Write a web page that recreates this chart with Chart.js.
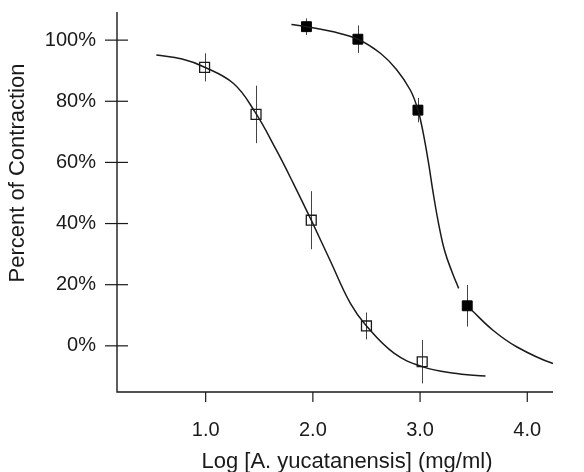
<!DOCTYPE html>
<html>
<head>
<meta charset="utf-8">
<script src="https://cdn.jsdelivr.net/npm/chart.js@4.4.0/dist/chart.umd.min.js"></script>
<style>
  html, body { margin: 0; padding: 0; background: #fff; }
  #chart { display: block; }
</style>
</head>
<body>
<canvas id="chart" width="584" height="472"></canvas>
<script>
// axis ticks
const xTicks = [1, 2, 3, 4];
const xTickLabels = ['1.0', '2.0', '3.0', '4.0'];
const yTicks = [0, 20, 40, 60, 80, 100];
const yTickLabels = ['0%', '20%', '40%', '60%', '80%', '100%'];
const xTitle = 'Log [A. yucatanensis] (mg/ml)';
const yTitle = 'Percent of Contraction';

// open squares (mean, error)
const openDose = [0.99, 1.47, 1.985, 2.50, 3.02];
const openPct = [91.1, 75.7, 41.1, 6.5, -5.2];
const openErr = [4.6, 9.4, 9.5, 4.4, 7.1];

// filled squares
const filledDose = [1.94, 2.42, 2.98, 3.44];
const filledPct = [104.4, 100.3, 77.1, 13.1];
const filledErr = [2.7, 4.5, 4.0, 6.8];

// fitted curves
const openFitDose = [0.54, 0.78, 0.98, 1.26, 1.46, 1.66, 1.82, 1.985, 2.16, 2.35, 2.50, 2.76, 3.02, 3.30, 3.61];
const openFitPct = [95.1, 93.8, 91.3, 85.8, 76.5, 64.0, 53.0, 41.1, 28.0, 13.9, 6.5, -2.5, -6.8, -8.9, -9.9];
const filledFitDose = [1.80, 1.94, 2.18, 2.42, 2.63, 2.78, 2.91, 2.98, 3.03, 3.08, 3.12, 3.17, 3.23, 3.30, 3.36, 3.42, 3.48, 3.68, 3.90, 4.24, 4.53];
const filledFitPct = [105.1, 104.4, 102.8, 100.3, 95.7, 90.4, 83.6, 77.2, 69.5, 59.6, 50.5, 40.5, 31.0, 24.0, 18.8, null, 11.7, 5.1, -0.3, -5.8, -7.9];

const font = '"Liberation Sans", Arial, sans-serif';
const ink = '#1a1a1a';

function pairs(xs, ys) {
  return xs.map((x, i) => ({ x: x, y: ys[i] }));
}

const frame = {
  id: 'frame',
  beforeDatasetsDraw(chart) {
    const { ctx, scales } = chart;
    const xs = scales.x, ys = scales.y;
    ctx.save();
    // error bars
    ctx.strokeStyle = '#444';
    ctx.lineWidth = 1;
    const bars = (dose, pct, err) => {
      dose.forEach((d, i) => {
        const px = Math.round(xs.getPixelForValue(d)) + 0.5;
        ctx.beginPath();
        ctx.moveTo(px, ys.getPixelForValue(pct[i] + err[i]));
        ctx.lineTo(px, ys.getPixelForValue(pct[i] - err[i]));
        ctx.stroke();
      });
    };
    bars(openDose, openPct, openErr);
    bars(filledDose, filledPct, filledErr);
    ctx.restore();
  },
  afterDraw(chart) {
    const { ctx, chartArea, scales } = chart;
    const xs = scales.x, ys = scales.y;
    ctx.save();
    ctx.strokeStyle = ink;
    ctx.lineWidth = 1.4;
    ctx.beginPath();
    ctx.moveTo(chartArea.left, chartArea.top);
    ctx.lineTo(chartArea.left, chartArea.bottom);
    ctx.lineTo(chartArea.right, chartArea.bottom);
    ctx.stroke();
    ctx.lineWidth = 1.2;
    yTicks.forEach(v => {
      const py = ys.getPixelForValue(v);
      ctx.beginPath();
      ctx.moveTo(chartArea.left - 12, py);
      ctx.lineTo(chartArea.left + 11, py);
      ctx.stroke();
    });
    xTicks.forEach(v => {
      const px = xs.getPixelForValue(v);
      ctx.beginPath();
      ctx.moveTo(px, chartArea.bottom);
      ctx.lineTo(px, chartArea.bottom + 10);
      ctx.stroke();
    });
    ctx.fillStyle = ink;
    ctx.font = '22px ' + font;
    ctx.textAlign = 'center';
    ctx.textBaseline = 'middle';
    ctx.fillText(xTitle, 347, 462);
    ctx.translate(18, 173);
    ctx.rotate(-Math.PI / 2);
    ctx.fillText(yTitle, 0, 0);
    ctx.restore();
  }
};

new Chart(document.getElementById('chart'), {
  type: 'scatter',
  data: {
    datasets: [
      {
        type: 'line',
        data: pairs(openFitDose, openFitPct),
        borderColor: ink,
        borderWidth: 1.5,
        pointRadius: 0,
        tension: 0.4,
        spanGaps: false,
        clip: false
      },
      {
        type: 'line',
        data: pairs(filledFitDose, filledFitPct),
        borderColor: ink,
        borderWidth: 1.5,
        pointRadius: 0,
        tension: 0.4,
        spanGaps: false,
        clip: false
      },
      {
        data: pairs(openDose, openPct),
        pointStyle: 'rect',
        pointRadius: 7,
        backgroundColor: 'rgba(0,0,0,0)',
        borderColor: ink,
        borderWidth: 1.3,
        clip: false
      },
      {
        data: pairs(filledDose, filledPct),
        pointStyle: 'rect',
        pointRadius: 7,
        backgroundColor: '#000',
        borderColor: '#000',
        borderWidth: 1,
        clip: false
      }
    ]
  },
  options: {
    responsive: false,
    animation: false,
    events: [],
    layout: { padding: { top: 12, right: 31, left: 0, bottom: 0 } },
    plugins: { legend: { display: false }, tooltip: { enabled: false } },
    scales: {
      x: {
        type: 'linear',
        min: 0.173,
        max: 4.24,
        grid: { display: false, drawTicks: false },
        border: { display: false },
        afterBuildTicks(scale) { scale.ticks = xTicks.map(v => ({ value: v })); },
        afterFit(scale) {
          scale.height = 80;
          scale.paddingLeft = 0;
          scale.paddingRight = 0;
        },
        ticks: {
          padding: 26,
          color: ink,
          font: { family: font, size: 20 },
          callback: (v) => xTickLabels[xTicks.indexOf(v)]
        }
      },
      y: {
        type: 'linear',
        min: -15.1,
        max: 109.2,
        grid: { display: false, drawTicks: false },
        border: { display: false },
        afterBuildTicks(scale) { scale.ticks = yTicks.map(v => ({ value: v })); },
        afterFit(scale) {
          scale.width = 117;
          scale.paddingTop = 0;
          scale.paddingBottom = 0;
        },
        ticks: {
          padding: 21,
          color: ink,
          font: { family: font, size: 20 },
          callback: (v) => yTickLabels[yTicks.indexOf(v)]
        }
      }
    }
  },
  plugins: [frame]
});
</script>
</body>
</html>
